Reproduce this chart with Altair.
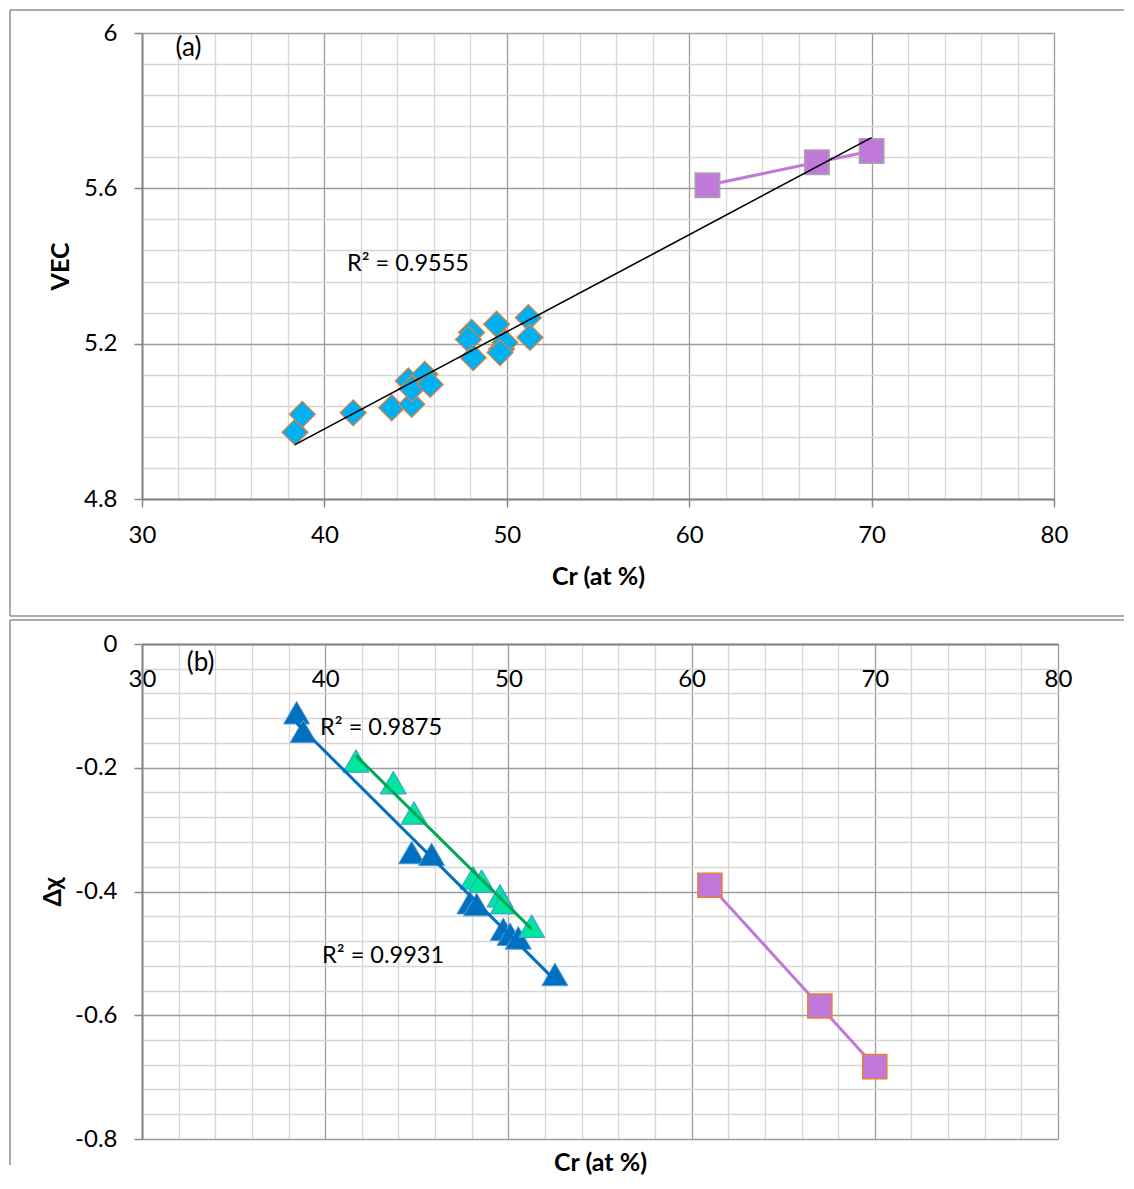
import altair as alt
import pandas as pd

# ---------------- data ----------------
# Panel (a): VEC vs Cr
a_dia_cr = [38.39, 38.79, 41.58, 43.69, 44.79, 44.60, 44.79, 45.50, 45.80,
            48.07, 47.90, 48.16, 49.44, 49.71, 49.90, 49.63, 51.18, 51.27]
a_dia_vec = [4.972, 5.018, 5.022, 5.035, 5.044, 5.104, 5.084, 5.121, 5.095,
             5.229, 5.211, 5.164, 5.250, 5.186, 5.203, 5.177, 5.267, 5.216]
a_sq_cr = [61.0, 67.0, 70.0]
a_sq_vec = [5.608, 5.667, 5.696]

# Panel (b): delta chi vs Cr
b_blue_cr = [38.44, 38.80, 44.72, 45.81, 47.90, 48.27, 49.72, 50.09, 50.54, 52.54]
b_blue_dx = [-0.111, -0.141, -0.337, -0.340, -0.418, -0.421, -0.461, -0.469, -0.475, -0.534]
b_green_cr = [41.68, 43.72, 44.85, 48.08, 48.54, 49.54, 49.72, 51.27]
b_green_dx = [-0.189, -0.224, -0.273, -0.378, -0.383, -0.407, -0.418, -0.456]
b_sq_cr = [61.0, 67.0, 70.0]
b_sq_dx = [-0.390, -0.585, -0.683]

# annotations
a_tag = ["(a)"]
a_tag_x = [32.55]
a_tag_y = [5.962]
a_txt = ["R² = 0.9555"]
a_txt_x = [44.58]
a_txt_y = [5.405]
b_tag = ["(b)"]
b_tag_x = [33.2]
b_tag_y = [-0.031]
b_txt = ["R² = 0.9875", "R² = 0.9931"]
b_txt_x = [43.05, 43.16]
b_txt_y = [-0.1357, -0.504]

# axis tick values
x_ticks = list(range(30, 81, 2))
a_y_ticks = [round(4.8 + 0.08 * i, 2) for i in range(16)]
b_y_ticks = [round(-0.8 + 0.04 * i, 2) for i in range(21)]

# ---------------- styling ----------------
FONT = "Lato"
GRID_MAJ = "#9d9d9d"
GRID_MIN = "#d6d6d6"
AXIS_COL = "#868686"
BORDER = "#8f8f8f"
BLUE_D = "#00B0F0"
ORANGE = "#ED7D31"
PURPLE = "#C078DA"
BLUE_T = "#0070C0"
GREEN_T = "#00E6A0"
GREEN_L = "#00A84F"

MAJ_X = "datum.value % 10 === 0"
MAJ_YA = "abs(datum.value*2.5 - round(datum.value*2.5)) < 1e-6"
MAJ_YB = "abs(datum.value*5 - round(datum.value*5)) < 1e-6"


def grid_cond(test):
    return {"condition": {"test": test, "value": GRID_MAJ}, "value": GRID_MIN}


def tick_cond(test):
    return {"condition": {"test": test, "value": AXIS_COL}, "value": "transparent"}


def lab_expr(test):
    return ("(" + test + ") ? (abs(datum.value) < 1e-9 ? '0' : "
            "replace(format(datum.value, ''), '\u2212', '-')) : ''")


xscale = alt.Scale(domain=[30, 80], nice=False, zero=False)
ya_scale = alt.Scale(domain=[4.8, 6.0], nice=False, zero=False)
yb_scale = alt.Scale(domain=[-0.8, 0.0], nice=False, zero=False)

common_lab = dict(labelFont=FONT, labelFontSize=24, labelColor="black",
                  titleFont=FONT, titleFontSize=25, titleFontWeight="bold",
                  titleColor="black", labelFlush=False, labelOverlap=False)

one = pd.DataFrame({"k": [0]})


def hrule(x1, x2, y):
    return alt.Chart(one).mark_rule(color=BORDER, strokeWidth=1.5).encode(
        x=alt.value(x1), x2=alt.value(x2), y=alt.value(y))


def vrule(x, y1, y2):
    return alt.Chart(one).mark_rule(color=BORDER, strokeWidth=1.5).encode(
        x=alt.value(x), y=alt.value(y1), y2=alt.value(y2))


# ---------------- panel (a) ----------------
dfa_d = pd.DataFrame({"cr": a_dia_cr, "vec": a_dia_vec})
dfa_s = pd.DataFrame({"cr": a_sq_cr, "vec": a_sq_vec})
dfa_all = pd.concat([dfa_d, dfa_s], ignore_index=True)
dfa_tag = pd.DataFrame({"t": a_tag, "cr": a_tag_x, "vec": a_tag_y})
dfa_t = pd.DataFrame({"t": a_txt, "cr": a_txt_x, "vec": a_txt_y})

xa_axis = alt.Axis(values=x_ticks, title="Cr (at %)", titlePadding=17,
                   labelPadding=16, tickSize=8, tickWidth=1.5,
                   tickColor=tick_cond(MAJ_X), labelExpr=lab_expr(MAJ_X),
                   gridColor=grid_cond(MAJ_X), gridWidth=1.3,
                   domainColor=AXIS_COL, domainWidth=2, **common_lab)
ya_axis = alt.Axis(values=a_y_ticks, title="VEC", titlePadding=5,
                   labelPadding=17, tickSize=8, tickWidth=1.5,
                   tickColor=tick_cond(MAJ_YA), labelExpr=lab_expr(MAJ_YA),
                   gridColor=grid_cond(MAJ_YA), gridWidth=1.3,
                   domainColor=AXIS_COL, domainWidth=2,
                   minExtent=64, maxExtent=64, **common_lab)

xa = alt.X("cr:Q", scale=xscale, axis=None)
ya = alt.Y("vec:Q", scale=ya_scale, axis=None)

a_dia = alt.Chart(dfa_d).mark_point(
    shape="diamond", filled=True, fill=BLUE_D, stroke=ORANGE, strokeWidth=1.2,
    opacity=1, size=680).encode(
    x=alt.X("cr:Q", scale=xscale, axis=xa_axis),
    y=alt.Y("vec:Q", scale=ya_scale, axis=ya_axis))
a_line = alt.Chart(dfa_s).mark_line(color=PURPLE, strokeWidth=3).encode(x=xa, y=ya)
a_sq = alt.Chart(dfa_s).mark_point(
    shape="square", filled=True, fill=PURPLE, stroke="#a6a6a6", strokeWidth=1.5,
    opacity=1, size=600).encode(x=xa, y=ya)
a_reg = alt.Chart(dfa_all).transform_regression("cr", "vec").mark_line(
    color="black", strokeWidth=1.6).encode(x=xa, y=ya)
a_tag_m = alt.Chart(dfa_tag).mark_text(font=FONT, fontSize=26, color="black").encode(
    x=xa, y=ya, text="t:N")
a_text = alt.Chart(dfa_t).mark_text(font=FONT, fontSize=23.5, color="black").encode(
    x=xa, y=ya, text="t:N")

panel_a = alt.layer(
    a_dia, a_line, a_sq, a_reg, a_tag_m, a_text,
    vrule(-132, -23, 583), hrule(-132, 982, -23), hrule(-132, 982, 583),
).resolve_axis(x="independent", y="independent").properties(width=912, height=466)

# ---------------- panel (b) ----------------
dfb_b = pd.DataFrame({"cr": b_blue_cr, "dx": b_blue_dx})
dfb_g = pd.DataFrame({"cr": b_green_cr, "dx": b_green_dx})
dfb_s = pd.DataFrame({"cr": b_sq_cr, "dx": b_sq_dx})
dfb_tag = pd.DataFrame({"t": b_tag, "cr": b_tag_x, "dx": b_tag_y})
dfb_t = pd.DataFrame({"t": b_txt, "cr": b_txt_x, "dx": b_txt_y})

xb_bottom = alt.Axis(values=x_ticks, title="Cr (at %)", titlePadding=11,
                     labels=False, ticks=False, domain=False,
                     gridColor=grid_cond(MAJ_X), gridWidth=1.3,
                     minExtent=0, maxExtent=0, **common_lab)
xb_top = alt.Axis(orient="top", values=x_ticks, title=None, grid=False,
                  ticks=False, tickSize=0, labelPadding=-42,
                  labelBaseline="alphabetic", labelExpr=lab_expr(MAJ_X),
                  domainColor=AXIS_COL, domainWidth=2, **common_lab)
yb_axis = alt.Axis(values=b_y_ticks, title="Δχ", titlePadding=7,
                   labelPadding=17, tickSize=8, tickWidth=1.5,
                   tickColor=tick_cond(MAJ_YB), labelExpr=lab_expr(MAJ_YB),
                   gridColor=grid_cond(MAJ_YB), gridWidth=1.3,
                   domainColor=AXIS_COL, domainWidth=2,
                   minExtent=70, maxExtent=70, **common_lab)

xb = alt.X("cr:Q", scale=xscale, axis=None)
yb = alt.Y("dx:Q", scale=yb_scale, axis=None)

b_blue = alt.Chart(dfb_b).mark_point(
    shape="triangle-up", filled=True, fill=BLUE_T, stroke="#5B9BD5",
    strokeWidth=1, opacity=1, size=680).encode(
    x=alt.X("cr:Q", scale=xscale, axis=xb_bottom),
    y=alt.Y("dx:Q", scale=yb_scale, axis=yb_axis))
b_green = alt.Chart(dfb_g).mark_point(
    shape="triangle-up", filled=True, fill=GREEN_T, stroke="#4a90d9",
    strokeWidth=1, opacity=1, size=680).encode(x=xb, y=yb)
b_line = alt.Chart(dfb_s).mark_line(color=PURPLE, strokeWidth=3).encode(
    x=alt.X("cr:Q", scale=xscale, axis=xb_top), y=yb)
b_sq = alt.Chart(dfb_s).mark_point(
    shape="square", filled=True, fill=PURPLE, stroke=ORANGE, strokeWidth=1.5,
    opacity=1, size=580).encode(x=xb, y=yb)
b_reg_blue = alt.Chart(dfb_b).transform_regression("cr", "dx").mark_line(
    color=BLUE_T, strokeWidth=3).encode(x=xb, y=yb)
b_reg_green = alt.Chart(dfb_g).transform_regression("cr", "dx").mark_line(
    color=GREEN_L, strokeWidth=3).encode(x=xb, y=yb)
b_tag_m = alt.Chart(dfb_tag).mark_text(font=FONT, fontSize=26, color="black").encode(
    x=xb, y=yb, text="t:N")
b_text = alt.Chart(dfb_t).mark_text(font=FONT, fontSize=23.5, color="black").encode(
    x=xb, y=yb, text="t:N")

panel_b = alt.layer(
    b_blue, b_green, b_line, b_sq, b_reg_blue, b_reg_green, b_tag_m, b_text,
    vrule(-132, -24, 521), hrule(-132, 982, -24),
).resolve_axis(x="independent", y="independent").properties(width=916, height=495)

chart = alt.vconcat(panel_a, panel_b, spacing=0).properties(
    padding={"left": 0, "top": 0, "right": 0, "bottom": 0}
).configure_view(strokeWidth=0).configure(font=FONT)

chart.save("out.html", embed_options={"renderer": "svg", "actions": False})
